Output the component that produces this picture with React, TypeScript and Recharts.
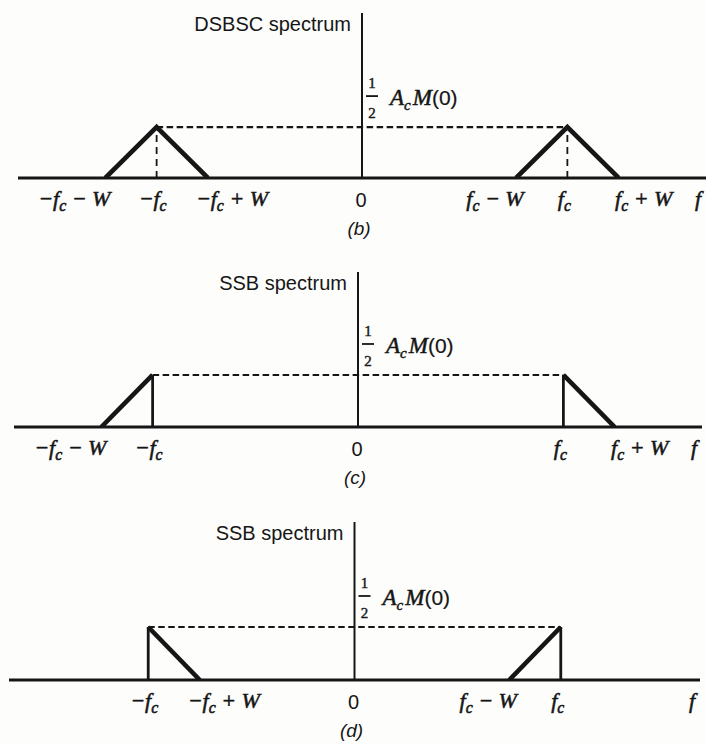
import React from "react";
import {
  ComposedChart,
  Line,
  XAxis,
  YAxis,
  ReferenceLine,
  ReferenceDot,
} from "recharts";

// ---- spectrum data (normalised units: carrier fc, message bandwidth W) ----
const FC = 4;
const W = 1;
const FREQ_SPAN: [number, number] = [-6.7, 6.7];
const PEAK = 1; // ½·Ac·M(0)

// (b) DSBSC: both sidebands around ±fc
const dsbFreq = [-FC - W, -FC, -FC + W, 0, FC - W, FC, FC + W];
const dsbAmp = [0, PEAK, 0, null, 0, PEAK, 0];
const dsbTicks = [-FC - W, -FC, -FC + W, 0, FC - W, FC, FC + W];
const dsbTickLabels = ["−f_c − W", "−f_c", "−f_c + W", "0", "f_c − W", "f_c", "f_c + W"];

// (c) SSB, upper sideband kept
const usbFreq = [-FC - W, -FC, 0, FC, FC + W];
const usbAmp = [0, PEAK, null, PEAK, 0];
const usbTicks = [-FC - W, -FC, 0, FC, FC + W];
const usbTickLabels = ["−f_c − W", "−f_c", "0", "f_c", "f_c + W"];

// (d) SSB, lower sideband kept
const lsbFreq = [-FC, -FC + W, 0, FC - W, FC];
const lsbAmp = [PEAK, 0, null, 0, PEAK];
const lsbTicks = [-FC, -FC + W, 0, FC - W, FC];
const lsbTickLabels = ["−f_c", "−f_c + W", "0", "f_c − W", "f_c"];

// carrier edges drawn as verticals
const carrierEdges = [-FC, FC];

// ---- styling ----
const INK = "#161616";
const SERIF = "'Liberation Serif', 'Times New Roman', serif";
const SANS = "'Liberation Sans', Arial, sans-serif";
const AXIS_H = 30;

// horizontal nudges that keep the long tick labels apart
const LABEL_DX: Record<string, number> = {
  "−f_c − W": -31,
  "−f_c": -4,
  "−f_c + W": 24,
  "0": -1,
  "f_c − W": -21,
  "f_c": -3,
  "f_c + W": 25,
};

type MathProps = { x: number; y: number; text: string; anchor?: "start" | "middle" | "end"; size?: number };

function MathText({ x, y, text, anchor = "middle", size = 22 }: MathProps) {
  const parts = text.split(/(_\w)/).filter((p) => p !== "");
  let lowered = false;
  return (
    <text
      x={x}
      y={y}
      textAnchor={anchor}
      fontFamily={SERIF}
      fontStyle="italic"
      fontSize={size}
      fill={INK}
      stroke={INK}
      strokeWidth={0.55}
      style={{ whiteSpace: "pre" }}
    >
      {parts.map((p, i) => {
        if (p.startsWith("_")) {
          lowered = true;
          return (
            <tspan key={i} dy={5} fontSize={size * 0.72}>
              {p.slice(1)}
            </tspan>
          );
        }
        const dy = lowered ? -5 : 0;
        lowered = false;
        return (
          <tspan key={i} dy={dy}>
            {p}
          </tspan>
        );
      })}
    </text>
  );
}

function makeTick(ticks: number[], labels: string[]) {
  return (props: any) => {
    const { x, y, payload } = props;
    const idx = ticks.indexOf(payload.value);
    const label = labels[idx] ?? "";
    const tx = x + (LABEL_DX[label] ?? 0);
    if (label === "0") {
      return (
        <text x={tx} y={y + 29} textAnchor="middle" fontFamily={SANS} fontSize={20} fill={INK}>
          0
        </text>
      );
    }
    return <MathText x={tx} y={y + 28} text={label} />;
  };
}

function AmplitudeLabel(props: any) {
  const vb = props.viewBox || {};
  const ax = (vb.x ?? 0) + (vb.width ?? 0) / 2;
  const py = (vb.y ?? 0) + (vb.height ?? 0) / 2;
  return (
    <g>
      <text x={ax + 10} y={py - 39} textAnchor="middle" fontFamily={SERIF} fontSize={15} fill={INK} stroke={INK} strokeWidth={0.4}>
        1
      </text>
      <line x1={ax + 4} x2={ax + 16} y1={py - 31} y2={py - 31} stroke={INK} strokeWidth={1.8} />
      <text x={ax + 10} y={py - 9} textAnchor="middle" fontFamily={SERIF} fontSize={15} fill={INK} stroke={INK} strokeWidth={0.4}>
        2
      </text>
      <text x={ax + 28} y={py - 22} fontFamily={SERIF} fontStyle="italic" fontSize={23} fill={INK} stroke={INK} strokeWidth={0.5}>
        A
        <tspan dy={5} fontSize={15}>c</tspan>
        <tspan dy={-5} dx={2}>M</tspan>
        <tspan fontFamily={SANS} fontStyle="normal" fontSize={21} strokeWidth={0.2}>(0)</tspan>
      </text>
    </g>
  );
}

type Panel = {
  title: string;
  caption: string;
  top: number;
  height: number;
  margin: { top: number; right: number; bottom: number; left: number };
  yTop: number;
  freq: number[];
  amp: (number | null)[];
  ticks: number[];
  tickLabels: string[];
  dashedEdges: boolean;
};

// margin.bottom is the space under the frequency axis line, the x-axis band included
const panels: Panel[] = [
  {
    title: "DSBSC spectrum",
    caption: "(b)",
    top: 0,
    height: 250,
    margin: { top: 13, right: 0, bottom: 72 - AXIS_H, left: 18 },
    yTop: 3.24,
    freq: dsbFreq,
    amp: dsbAmp,
    ticks: dsbTicks,
    tickLabels: dsbTickLabels,
    dashedEdges: true,
  },
  {
    title: "SSB spectrum",
    caption: "(c)",
    top: 250,
    height: 250,
    margin: { top: 22, right: 4, bottom: 73 - AXIS_H, left: 14 },
    yTop: 2.98,
    freq: usbFreq,
    amp: usbAmp,
    ticks: usbTicks,
    tickLabels: usbTickLabels,
    dashedEdges: false,
  },
  {
    title: "SSB spectrum",
    caption: "(d)",
    top: 500,
    height: 245,
    margin: { top: 22, right: 6, bottom: 65 - AXIS_H, left: 9 },
    yTop: 2.98,
    freq: lsbFreq,
    amp: lsbAmp,
    ticks: lsbTicks,
    tickLabels: lsbTickLabels,
    dashedEdges: false,
  },
];

function SpectrumPanel({ p }: { p: Panel }) {
  const data = p.freq.map((f, i) => ({ f, a: p.amp[i] }));
  const Tick = makeTick(p.ticks, p.tickLabels);
  return (
    <ComposedChart width={706} height={p.height} margin={p.margin}>
      <XAxis
        type="number"
        dataKey="f"
        domain={FREQ_SPAN}
        allowDataOverflow
        ticks={p.ticks}
        interval={0}
        tick={Tick}
        tickLine={false}
        axisLine={false}
        tickSize={0}
        tickMargin={0}
        height={AXIS_H}
        label={{
          content: (lp: any) => {
            const vb = lp.viewBox || {};
            return <MathText x={vb.x + vb.width - 8} y={vb.y + 28} text="f" />;
          },
        }}
      />
      <YAxis hide type="number" domain={[0, p.yTop]} allowDataOverflow />

      {/* frequency axis */}
      <ReferenceLine y={0} stroke={INK} strokeWidth={3.2} ifOverflow="visible" />
      {/* amplitude axis */}
      <ReferenceLine x={0} stroke={INK} strokeWidth={2} />

      {/* reference level ½·Ac·M(0) */}
      <ReferenceLine
        segment={[
          { x: -FC, y: PEAK },
          { x: FC, y: PEAK },
        ]}
        stroke={INK}
        strokeWidth={2.2}
        strokeDasharray="6.5 3.5"
      />

      {/* carrier edges */}
      {carrierEdges.map((fe) => (
        <ReferenceLine
          key={fe}
          segment={[
            { x: fe, y: 0 },
            { x: fe, y: PEAK },
          ]}
          stroke={INK}
          strokeWidth={p.dashedEdges ? 1.8 : 2.8}
          strokeDasharray={p.dashedEdges ? "7 5" : undefined}
        />
      ))}

      {/* sideband slopes */}
      <Line
        data={data}
        dataKey="a"
        type="linear"
        stroke={INK}
        strokeWidth={4.6}
        strokeLinejoin="miter"
        strokeLinecap="butt"
        dot={false}
        activeDot={false}
        isAnimationActive={false}
      />

      {/* title next to the amplitude axis */}
      <ReferenceDot
        x={0}
        y={p.yTop}
        r={0}
        fill="none"
        stroke="none"
        label={{
          content: (lp: any) => {
            const vb = lp.viewBox || {};
            const cx = (vb.x ?? 0) + (vb.width ?? 0) / 2;
            const cy = (vb.y ?? 0) + (vb.height ?? 0) / 2;
            return (
              <text x={cx - 11} y={cy + 18} textAnchor="end" fontFamily={SANS} fontSize={20} fill={INK}>
                {p.title}
              </text>
            );
          },
        }}
      />

      {/* level annotation */}
      <ReferenceDot x={0} y={PEAK} r={0} fill="none" stroke="none" label={{ content: (lp: any) => <AmplitudeLabel {...lp} /> }} />

      {/* panel caption */}
      <ReferenceDot
        x={0}
        y={0}
        r={0}
        fill="none"
        stroke="none"
        label={{
          content: (lp: any) => {
            const vb = lp.viewBox || {};
            const cx = (vb.x ?? 0) + (vb.width ?? 0) / 2;
            const cy = (vb.y ?? 0) + (vb.height ?? 0) / 2;
            return (
              <text x={cx - 3} y={cy + 57} textAnchor="middle" fontFamily={SANS} fontStyle="italic" fontSize={19} fill={INK}>
                {p.caption}
              </text>
            );
          },
        }}
      />
    </ComposedChart>
  );
}

export default function App() {
  return (
    <div style={{ position: "absolute", left: 0, top: 0, width: 706, height: 745, background: "#fdfdfc", overflow: "hidden" }}>
      {panels.map((p) => (
        <div key={p.caption} style={{ position: "absolute", left: 0, top: p.top, width: 706, height: p.height }}>
          <SpectrumPanel p={p} />
        </div>
      ))}
    </div>
  );
}
